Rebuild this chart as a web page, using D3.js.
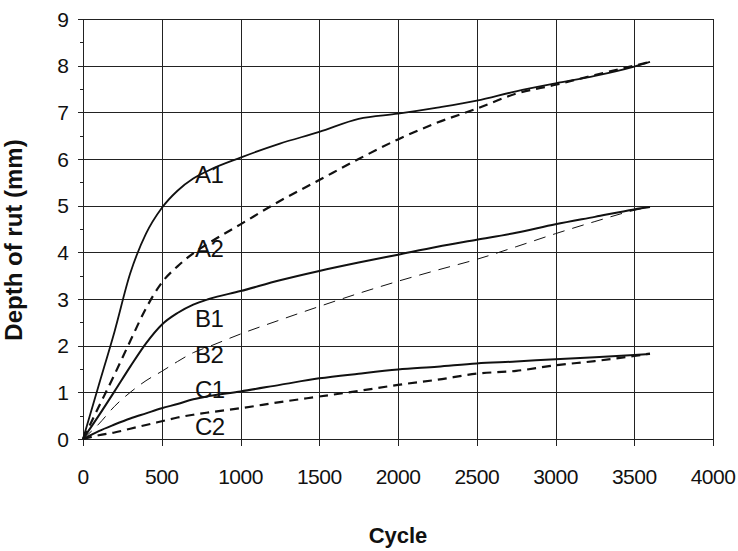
<!DOCTYPE html>
<html>
<head>
<meta charset="utf-8">
<script src="https://cdn.jsdelivr.net/npm/d3@7"></script>
<style>
  html, body { margin: 0; padding: 0; background: #fff; }
  svg { display: block; }
  text { font-family: Arial, "Liberation Sans", Helvetica, sans-serif; fill: #111; }
</style>
</head>
<body>
<svg id="chart" width="738" height="551"></svg>
<script>
// Rut depth (mm) versus loading cycle for six test sections
const cycles = [0, 100, 200, 300, 400, 500, 600, 700, 800, 1000, 1250, 1500, 1750, 2000, 2250, 2500, 2750, 3000, 3250, 3500, 3600];
const seriesA1 = [0, 1.15, 2.3, 3.55, 4.4, 4.95, 5.32, 5.58, 5.76, 6.03, 6.33, 6.58, 6.86, 6.97, 7.1, 7.25, 7.45, 7.62, 7.78, 7.98, 8.08];
const seriesA2 = [0, 0.69, 1.38, 2.1, 2.8, 3.35, 3.7, 3.98, 4.2, 4.6, 5.1, 5.55, 6.0, 6.42, 6.78, 7.08, 7.4, 7.59, 7.8, 8.0, 8.08];
const seriesB1 = [0, 0.5, 1.02, 1.55, 2.05, 2.45, 2.7, 2.88, 3.0, 3.17, 3.4, 3.6, 3.78, 3.95, 4.12, 4.27, 4.42, 4.6, 4.76, 4.92, 4.97];
const seriesB2 = [0, 0.32, 0.7, 1.0, 1.25, 1.45, 1.66, 1.85, 1.98, 2.25, 2.55, 2.84, 3.12, 3.38, 3.62, 3.85, 4.12, 4.4, 4.66, 4.9, 4.97];
const seriesC1 = [0, 0.17, 0.31, 0.44, 0.55, 0.66, 0.75, 0.85, 0.92, 1.02, 1.16, 1.3, 1.4, 1.49, 1.55, 1.62, 1.66, 1.71, 1.75, 1.8, 1.82];
const seriesC2 = [0, 0.08, 0.14, 0.22, 0.3, 0.38, 0.46, 0.52, 0.57, 0.66, 0.79, 0.91, 1.03, 1.16, 1.27, 1.4, 1.46, 1.58, 1.67, 1.78, 1.83];

const seriesNames = ["A1", "A2", "B1", "B2", "C1", "C2"];
// label anchor for each curve name (cycle, depth)
const labelCycle = [711, 711, 711, 711, 711, 711];
const labelDepth = [5.49, 3.9, 2.4, 1.63, 0.88, 0.09];

const xTicks = [0, 500, 1000, 1500, 2000, 2500, 3000, 3500, 4000];
const yTicks = [0, 1, 2, 3, 4, 5, 6, 7, 8, 9];
const yMinorTicks = [0.5, 1.5, 2.5, 3.5, 4.5, 5.5, 6.5, 7.5, 8.5];

const xTitle = "Cycle";
const yTitle = "Depth of rut (mm)";

const styles = {
  A1: { width: 1.8, dash: null },
  A2: { width: 2.2, dash: "9,6" },
  B1: { width: 2.0, dash: null },
  B2: { width: 1.0, dash: "12,8" },
  C1: { width: 2.0, dash: null },
  C2: { width: 2.2, dash: "9,6" }
};

const svg = d3.select("#chart");
const plotLeft = 83, plotRight = 713, plotTop = 19, plotBottom = 439;

const x = d3.scaleLinear().domain([0, 4000]).range([plotLeft, plotRight]);
const y = d3.scaleLinear().domain([0, 9]).range([plotBottom, plotTop]);

svg.append("rect").attr("width", 738).attr("height", 551).attr("fill", "#fff");

// grid
const grid = svg.append("g").attr("stroke", "#222").attr("stroke-width", 1).attr("shape-rendering", "crispEdges");
grid.selectAll("line.h").data(yTicks).join("line")
  .attr("x1", plotLeft - 5).attr("x2", plotRight)
  .attr("y1", d => Math.round(y(d)) + 0.5).attr("y2", d => Math.round(y(d)) + 0.5);
grid.selectAll("line.v").data(xTicks).join("line")
  .attr("y1", plotTop).attr("y2", plotBottom + 7)
  .attr("x1", d => Math.round(x(d)) + 0.5).attr("x2", d => Math.round(x(d)) + 0.5);
grid.selectAll("line.m").data(yMinorTicks).join("line")
  .attr("x1", plotLeft - 3).attr("x2", plotLeft)
  .attr("y1", d => Math.round(y(d)) + 0.5).attr("y2", d => Math.round(y(d)) + 0.5);

// tick labels
svg.append("g").selectAll("text").data(yTicks).join("text")
  .attr("x", 69).attr("y", d => y(d)).attr("dy", "0.36em")
  .attr("text-anchor", "end").attr("font-size", 21)
  .text(d => d);
svg.append("g").selectAll("text").data(xTicks).join("text")
  .attr("x", d => x(d)).attr("y", 484)
  .attr("text-anchor", "middle").attr("font-size", 21).attr("letter-spacing", "-0.5")
  .text(d => d);

// axis titles
svg.append("text").attr("x", (plotLeft + plotRight) / 2).attr("y", 543)
  .attr("text-anchor", "middle").attr("font-size", 22).attr("font-weight", "bold")
  .text(xTitle);
svg.append("text").attr("transform", "translate(22,240) rotate(-90)")
  .attr("text-anchor", "middle").attr("font-size", 24).attr("font-weight", "bold")
  .text(yTitle);

// curves
const data = [seriesA1, seriesA2, seriesB1, seriesB2, seriesC1, seriesC2];
const line = d3.line().x(d => x(d[0])).y(d => y(d[1])).curve(d3.curveMonotoneX);
data.forEach((vals, i) => {
  const s = styles[seriesNames[i]];
  svg.append("path")
    .datum(cycles.map((c, j) => [c, vals[j]]))
    .attr("d", line)
    .attr("fill", "none").attr("stroke", "#111")
    .attr("stroke-width", s.width)
    .attr("stroke-dasharray", s.dash)
    .attr("stroke-linejoin", "round");
});

// curve names
svg.append("g").selectAll("text").data(seriesNames).join("text")
  .attr("x", (d, i) => x(labelCycle[i])).attr("y", (d, i) => y(labelDepth[i]))
  .attr("font-size", 24).attr("letter-spacing", "-0.5")
  .text(d => d);
</script>
</body>
</html>
